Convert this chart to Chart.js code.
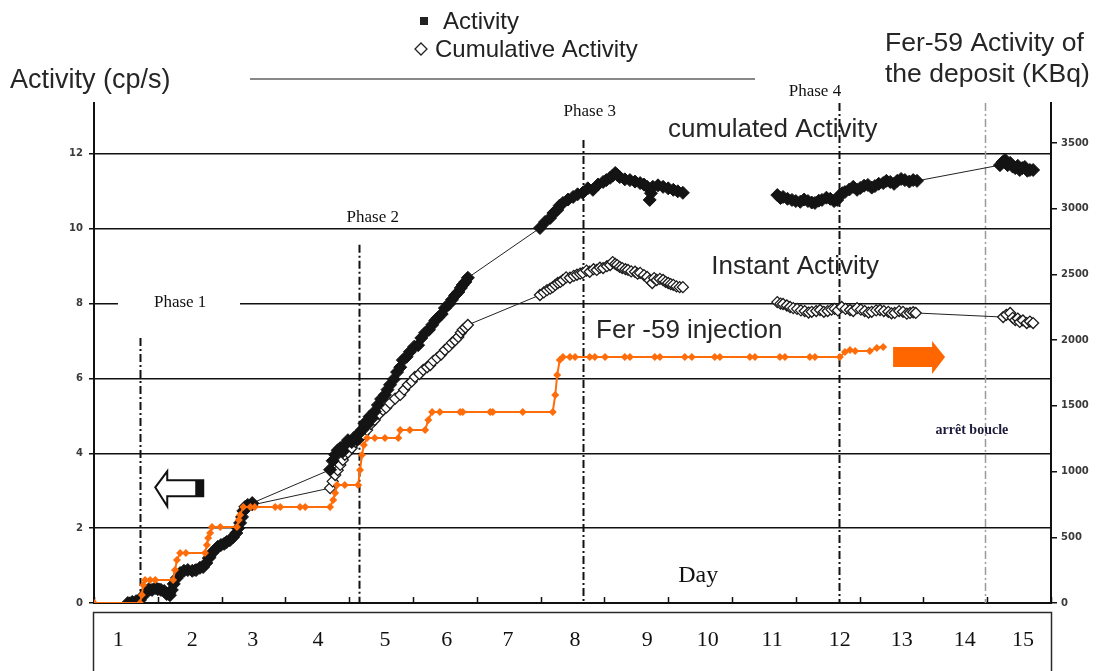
<!DOCTYPE html>
<html><head><meta charset="utf-8">
<script src="https://cdn.jsdelivr.net/npm/chart.js@4.4.1/dist/chart.umd.min.js"></script>
<style>html,body{margin:0;padding:0;background:#fff;}canvas{display:block;}</style>
</head><body>
<canvas id="c" width="1096" height="671"></canvas>
<script>
// ---- data ----
const dayLabels = ['1','2','3','4','5','6','7','8','9','10','11','12','13','14','15'];
const dayPositions = [0.38,1.54,2.49,3.51,4.56,5.53,6.49,7.54,8.67,9.62,10.63,11.69,12.66,13.65,14.56];
const leftTicks = [0,2,4,6,8,10,12];
const rightTicks = [0,500,1000,1500,2000,2500,3000,3500];
const xTicks = [0,1,2,3,4,5,6,7,8,9,10,11,12,13,14,15];

// filled black diamonds: [x, cp/s]
const activityPoints = [
 [0.53,0],[0.60,0.03],[0.66,0.05],[0.72,0.08],[0.77,0.19],[0.82,0.32],[0.86,0.37],[0.91,0.35],[0.96,0.40],[1.00,0.37],
 [1.05,0.35],[1.10,0.32],[1.14,0.24],[1.19,0.21],[1.22,0.35],[1.25,0.51],[1.30,0.67],[1.35,0.80],[1.41,0.86],[1.47,0.88],
 [1.54,0.86],[1.60,0.88],[1.66,0.94],[1.71,0.96],[1.76,1.07],[1.80,1.20],[1.85,1.34],[1.90,1.42],[1.94,1.50],[1.99,1.55],
 [2.04,1.58],[2.08,1.63],[2.13,1.68],[2.18,1.76],[2.23,1.87],[2.26,2.00],[2.29,2.14],[2.32,2.30],[2.34,2.46],[2.37,2.57],
 [2.41,2.62],[2.48,2.67],
 [3.70,3.56],[3.74,3.80],[3.78,3.96],[3.82,4.08],[3.86,4.14],[3.90,4.05],[3.93,4.22],[3.98,4.35],[4.04,4.30],[4.08,4.42],
 [4.12,4.36],[4.16,4.55],[4.20,4.62],[4.24,4.80],[4.28,4.76],[4.32,4.98],[4.36,4.94],[4.40,5.12],[4.45,5.29],[4.50,5.45],
 [4.56,5.56],[4.60,5.70],[4.64,5.83],[4.70,5.98],[4.75,6.17],[4.80,6.30],[4.84,6.49],[4.90,6.58],[4.95,6.71],[5.02,6.85],
 [5.08,6.89],[5.13,7.08],[5.19,7.22],[5.25,7.30],[5.30,7.43],[5.35,7.55],[5.39,7.62],[5.45,7.72],[5.50,7.88],[5.56,7.98],
 [5.61,8.10],[5.66,8.22],[5.71,8.31],[5.75,8.42],[5.78,8.50],[5.82,8.58],[5.86,8.69],
 [6.99,10.02],[7.07,10.18],[7.15,10.29],[7.20,10.42],[7.26,10.50],[7.30,10.62],[7.35,10.69],[7.43,10.78],[7.51,10.85],[7.58,10.92],
 [7.66,10.96],[7.74,11.08],[7.82,11.04],[7.90,11.18],[7.98,11.25],[8.03,11.30],[8.09,11.36],[8.13,11.42],[8.17,11.49],[8.20,11.44],
 [8.24,11.38],[8.32,11.32],[8.40,11.30],[8.48,11.26],[8.56,11.22],[8.62,11.18],[8.67,11.12],[8.71,10.77],[8.73,10.95],[8.76,11.12],
 [8.84,11.16],[8.92,11.12],[9.00,11.08],[9.08,11.04],[9.15,11.00],[9.23,10.96],
 [9.70,null],
 [10.71,10.90],[10.76,10.82],[10.80,10.85],[10.87,10.80],[10.94,10.77],[11.00,10.74],[11.07,10.72],[11.13,10.78],[11.19,10.74],[11.25,10.70],
 [11.30,10.69],[11.36,10.75],[11.41,10.77],[11.48,10.83],[11.54,10.80],[11.60,10.74],[11.65,10.77],[11.69,10.90],[11.73,10.95],[11.77,10.98],
 [11.84,11.05],[11.90,11.12],[11.96,11.04],[12.01,11.09],[12.07,11.15],[12.13,11.17],[12.19,11.10],[12.24,11.14],[12.30,11.20],[12.37,11.22],
 [12.42,11.28],[12.48,11.25],[12.54,11.20],[12.59,11.28],[12.65,11.33],[12.71,11.30],[12.78,11.26],[12.84,11.30],[12.90,11.28],
 [14.20,11.70],[14.24,11.78],[14.28,11.84],[14.32,11.70],[14.36,11.76],[14.40,11.66],[14.44,11.62],[14.48,11.68],[14.51,11.57],[14.55,11.62],
 [14.59,11.65],[14.63,11.55],[14.67,11.57],[14.72,11.57]
];

// hollow diamonds: [x, cp/s]
const cumulativePoints = [
 [0.56,0],[0.72,0.11],[0.88,0.35],[1.03,0.37],[1.19,0.27],[1.35,0.78],[1.58,0.88],[1.82,1.23],[2.05,1.60],[2.26,2.00],
 [2.37,2.49],[2.48,2.62],
 [3.70,3.07],[3.74,3.25],[3.78,3.42],[3.82,3.55],[3.86,3.69],[3.90,3.82],[3.93,3.96],[3.98,4.02],[4.04,4.14],[4.10,4.30],
 [4.17,4.41],[4.22,4.50],[4.28,4.62],[4.34,4.78],[4.40,4.89],[4.47,5.05],[4.53,5.16],[4.58,5.22],[4.64,5.34],[4.72,5.46],
 [4.80,5.56],[4.86,5.70],[4.92,5.83],[4.98,5.92],[5.03,6.04],[5.10,6.12],[5.16,6.23],[5.22,6.30],[5.27,6.36],[5.32,6.47],
 [5.38,6.55],[5.44,6.64],[5.50,6.76],[5.56,6.85],[5.61,6.95],[5.66,7.02],[5.71,7.11],[5.75,7.22],[5.78,7.30],[5.82,7.36],
 [5.86,7.43],
 [6.99,8.23],[7.05,8.30],[7.10,8.36],[7.15,8.40],[7.19,8.44],[7.23,8.50],[7.27,8.55],[7.31,8.58],[7.35,8.63],[7.40,8.70],
 [7.46,8.69],[7.52,8.74],[7.57,8.77],[7.62,8.80],[7.66,8.82],[7.72,8.88],[7.77,8.85],[7.83,8.92],[7.88,8.90],[7.93,8.96],
 [7.98,8.95],[8.04,9.00],[8.09,9.03],[8.13,9.11],[8.17,9.06],[8.20,9.03],[8.24,8.98],[8.28,8.95],[8.33,8.92],[8.37,8.90],
 [8.42,8.86],[8.48,8.85],[8.52,8.80],[8.56,8.82],[8.62,8.76],[8.67,8.71],[8.71,8.62],[8.75,8.55],[8.78,8.68],[8.82,8.63],
 [8.87,8.66],[8.92,8.63],[8.96,8.58],[9.00,8.55],[9.04,8.52],[9.08,8.50],[9.13,8.46],[9.18,8.44],[9.23,8.44],
 [9.70,null],
 [10.71,8.04],[10.76,8.00],[10.80,7.99],[10.86,7.95],[10.91,7.91],[10.96,7.88],[11.02,7.86],[11.08,7.82],[11.14,7.80],[11.20,7.76],
 [11.25,7.78],[11.32,7.80],[11.38,7.83],[11.44,7.78],[11.50,7.80],[11.56,7.84],[11.61,7.86],[11.66,7.82],[11.72,7.91],[11.78,7.86],
 [11.85,7.83],[11.90,7.80],[11.96,7.88],[12.02,7.84],[12.08,7.80],[12.14,7.76],[12.19,7.78],[12.26,7.82],[12.32,7.83],[12.38,7.80],
 [12.45,7.78],[12.50,7.74],[12.55,7.75],[12.62,7.80],[12.68,7.78],[12.74,7.73],[12.79,7.75],[12.84,7.77],[12.88,7.75],
 [14.25,7.64],[14.30,7.70],[14.36,7.75],[14.40,7.62],[14.44,7.56],[14.48,7.60],[14.51,7.51],[14.56,7.55],[14.62,7.48],[14.67,7.52],
 [14.72,7.48]
];

// Fer-59 injection (right axis, KBq): [x, KBq]
const injectionPoints = [
 [0,0],[0.72,0],[0.75,61],[0.77,137],[0.80,175],[0.88,175],[0.96,175],[1.24,175],[1.27,251],[1.30,327],
 [1.35,381],[1.44,381],[1.74,381],
 [1.77,441],[1.79,495],[1.82,533],[1.85,578],[1.98,578],[2.24,578],
 [2.27,632],[2.29,670],[2.34,731],[2.45,731],[2.52,731],[2.84,731],[2.92,731],[3.23,731],[3.31,731],[3.70,731],
 [3.75,784],[3.78,837],[3.81,898],[3.93,898],[4.14,898],
 [4.17,1012],[4.20,1126],[4.23,1202],[4.28,1256],[4.40,1256],[4.56,1256],[4.77,1256],
 [4.80,1317],[4.95,1317],[5.19,1317],[5.24,1393],
 [5.30,1454],[5.42,1454],[5.74,1454],[5.78,1454],[6.21,1454],[6.25,1454],[6.72,1454],[7.19,1454],
 [7.23,1583],[7.26,1735],[7.30,1849],
 [7.35,1872],[7.46,1872],[7.54,1872],[7.77,1872],[7.85,1872],[8.01,1872],[8.32,1872],[8.40,1872],[8.79,1872],[8.87,1872],
 [9.26,1872],[9.37,1872],[9.73,1872],[9.81,1872],[10.28,1872],[10.36,1872],[10.75,1872],[10.83,1872],[11.22,1872],[11.30,1872],
 [11.69,1872],
 [11.77,1910],[11.85,1925],[11.93,1918],[12.16,1918],[12.27,1941],[12.37,1948]
];

const pts = arr => arr.map(p => ({x: p[0], y: p[1]}));

// ---- annotation layout (separate from data) ----
const phaseLines = [
  {x:0.72, from:7.08, color:'#111', w:2},
  {x:4.15, from:9.57, color:'#111', w:2},
  {x:7.66, from:12.37, color:'#111', w:2},
  {x:11.68, from:13.36, color:'#111', w:2},
  {x:13.97, from:13.36, color:'#9a9a9a', w:1.5}
];
const phaseLabels = [
  {text:'Phase 1', x:1.35, y:8.04, bg:[0.376,2.288]},
  {text:'Phase 2', x:4.37, y:10.29, bg:[3.51,5.30]},
  {text:'Phase 3', x:7.77, y:13.12},
  {text:'Phase 4', x:11.30, y:13.66}
];
const seriesLabels = [
  {text:'cumulated Activity', x:10.64, y:12.64},
  {text:'Instant Activity', x:10.99, y:8.98},
  {text:'Fer -59 injection', x:9.33, y:7.27}
];

const ORANGE = '#ff6c0a';

const deco = {
  id:'deco',
  beforeDatasetsDraw(chart){
    const ctx = chart.ctx, xs = chart.scales.x, yl = chart.scales.y;
    ctx.save();
    ctx.fillStyle = '#fff';
    phaseLabels.forEach(p => {
      if (!p.bg) return;
      const x0 = xs.getPixelForValue(p.bg[0]), x1 = xs.getPixelForValue(p.bg[1]);
      const yc = yl.getPixelForValue(p.y);
      ctx.fillRect(x0, yc - 10, x1 - x0, 20);
    });
    phaseLines.forEach(l => {
      const x = Math.round(xs.getPixelForValue(l.x)) + 0.5;
      ctx.beginPath();
      ctx.setLineDash([8,3,2,3]);
      ctx.strokeStyle = l.color; ctx.lineWidth = l.w;
      ctx.moveTo(x, yl.getPixelForValue(l.from));
      ctx.lineTo(x, yl.getPixelForValue(0));
      ctx.stroke();
    });
    ctx.setLineDash([]);
    ctx.strokeStyle = '#111'; ctx.lineWidth = 1.5;
    const yb = yl.getPixelForValue(0);
    xTicks.forEach(t => {
      const x = Math.round(xs.getPixelForValue(t)) + 0.5;
      ctx.beginPath(); ctx.moveTo(x, yb); ctx.lineTo(x, yb - 6); ctx.stroke();
    });
    ctx.restore();
  },
  afterDatasetsDraw(chart){
    const ctx = chart.ctx, xs = chart.scales.x, yl = chart.scales.y;
    const px = u => xs.getPixelForValue(u), py = v => yl.getPixelForValue(v);
    ctx.save();
    ctx.textBaseline = 'middle';
    ctx.fillStyle = '#111'; ctx.textAlign = 'center';
    ctx.font = '17px "Liberation Serif"';
    phaseLabels.forEach(p => ctx.fillText(p.text, px(p.x), py(p.y)));
    ctx.font = '26px "Liberation Sans"'; ctx.fillStyle = '#262626';
    seriesLabels.forEach(p => ctx.fillText(p.text, px(p.x), py(p.y)));
    ctx.font = '24px "Liberation Serif"'; ctx.fillStyle = '#111';
    ctx.fillText('Day', px(9.47), py(0.72));
    ctx.font = 'bold 14px "Liberation Serif"'; ctx.fillStyle = '#1c1c3a';
    ctx.fillText('arrêt boucle', px(13.76), py(4.62));

    // hollow left arrow
    const tx = px(0.96), ty = py(3.09);
    ctx.beginPath();
    ctx.moveTo(tx, ty);
    ctx.lineTo(tx + 12, ty - 16);
    ctx.lineTo(tx + 12, ty - 7);
    ctx.lineTo(tx + 48, ty - 7);
    ctx.lineTo(tx + 48, ty + 9);
    ctx.lineTo(tx + 12, ty + 9);
    ctx.lineTo(tx + 12, ty + 19);
    ctx.closePath();
    ctx.fillStyle = '#fff'; ctx.fill();
    ctx.strokeStyle = '#111'; ctx.lineWidth = 2; ctx.stroke();
    ctx.fillStyle = '#111'; ctx.fillRect(tx + 40, ty - 7, 8, 16);

    // orange right arrow
    const ox = px(13.34), oy = py(6.57);
    ctx.beginPath();
    ctx.moveTo(ox, oy);
    ctx.lineTo(ox - 13, oy - 16);
    ctx.lineTo(ox - 13, oy - 10);
    ctx.lineTo(ox - 52, oy - 10);
    ctx.lineTo(ox - 52, oy + 10);
    ctx.lineTo(ox - 13, oy + 10);
    ctx.lineTo(ox - 13, oy + 17);
    ctx.closePath();
    ctx.fillStyle = '#ff6600'; ctx.fill();

    // day label box
    const bx0 = px(0) - 1, bx1 = px(15);
    const by0 = py(0) + 9;
    ctx.strokeStyle = '#2a2a2a'; ctx.lineWidth = 1.5;
    ctx.strokeRect(bx0 + 0.5, by0 + 0.5, bx1 - bx0, 80);
    ctx.font = '22px "Liberation Serif"'; ctx.fillStyle = '#111'; ctx.textAlign = 'center';
    dayPositions.forEach((d, i) => ctx.fillText(dayLabels[i], px(d), by0 + 28));

    // top legend
    ctx.textAlign = 'left';
    ctx.font = '24px "Liberation Sans"'; ctx.fillStyle = '#222';
    ctx.fillRect(420, 17, 8, 8);
    ctx.fillText('Activity', 443, 22);
    ctx.beginPath();
    ctx.moveTo(421, 43); ctx.lineTo(427, 49); ctx.lineTo(421, 55); ctx.lineTo(415, 49); ctx.closePath();
    ctx.strokeStyle = '#222'; ctx.lineWidth = 1.3; ctx.stroke();
    ctx.fillText('Cumulative Activity', 435, 50);
    ctx.strokeStyle = '#888'; ctx.lineWidth = 2;
    ctx.beginPath(); ctx.moveTo(250, 79); ctx.lineTo(755, 79); ctx.stroke();
    // axis titles
    ctx.fillStyle = '#262626';
    ctx.font = '27px "Liberation Sans"';
    ctx.fillText('Activity (cp/s)', 10, 81);
    ctx.font = '26.5px "Liberation Sans"';
    ctx.fillText('Fer-59 Activity of', 885, 44);
    ctx.fillText('the deposit (KBq)', 885, 75);
    ctx.restore();
  }
};

const tickFont = {family:'"DejaVu Sans"', size:10, weight:'bold'};

new Chart(document.getElementById('c'), {
  type:'line',
  data:{
    datasets:[
      {label:'Fer-59 injection', data:pts(injectionPoints), yAxisID:'y2', order:0,
       borderColor:ORANGE, borderWidth:2, backgroundColor:ORANGE,
       pointStyle:'rectRot', pointRadius:4, pointBorderWidth:0, pointBackgroundColor:ORANGE, spanGaps:false},
      {label:'Activity', data:pts(activityPoints), yAxisID:'y', order:1,
       borderColor:'#222', borderWidth:1, pointStyle:'rectRot', pointRadius:6.5,
       pointBackgroundColor:'#141414', pointBorderColor:'#141414', pointBorderWidth:1, spanGaps:false},
      {label:'Cumulative Activity', data:pts(cumulativePoints), yAxisID:'y', order:2,
       borderColor:'#222', borderWidth:1, pointStyle:'rectRot', pointRadius:5.5,
       pointBackgroundColor:'#fff', pointBorderColor:'#1a1a1a', pointBorderWidth:1.3, spanGaps:false}
    ]
  },
  options:{
    responsive:false, animation:false, devicePixelRatio:1,
    layout:{padding:{top:103, left:0, right:0, bottom:0}},
    plugins:{legend:{display:false}, tooltip:{enabled:false}},
    elements:{line:{tension:0}},
    scales:{
      x:{type:'linear', min:0, max:15, position:'bottom',
         ticks:{display:false}, grid:{display:false},
         border:{display:true, color:'#111', width:2},
         afterFit(s){ s.height = 68; }},
      y:{type:'linear', position:'left', min:0, max:13.36,
         afterBuildTicks(s){ s.ticks = leftTicks.map(v => ({value:v})); },
         ticks:{font:tickFont, color:'#3a3a3a', padding:6, callback:v => String(v)},
         grid:{color:'#111', lineWidth:1.5, tickLength:5, drawOnChartArea:true},
         border:{display:true, color:'#111', width:2},
         afterFit(s){ s.width = 94; }},
      y2:{type:'linear', position:'right', min:0, max:3805,
         afterBuildTicks(s){ s.ticks = rightTicks.map(v => ({value:v})); },
         ticks:{font:tickFont, color:'#3a3a3a', padding:4, callback:v => String(v)},
         grid:{drawOnChartArea:false, color:'#111', lineWidth:1.5, tickLength:6},
         border:{display:true, color:'#111', width:2},
         afterFit(s){ s.width = 45; }}
    }
  },
  plugins:[deco]
});
</script>
</body></html>
